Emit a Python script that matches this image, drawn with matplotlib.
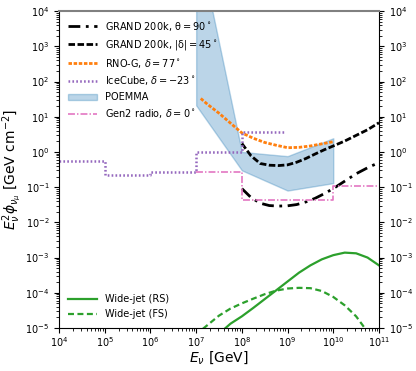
import matplotlib
matplotlib.use("Agg")
import matplotlib.pyplot as plt
from matplotlib.patches import Patch
from matplotlib.ticker import LogLocator, NullFormatter

plt.rcParams['lines.scale_dashes'] = False

# GRAND 200k, theta = 90 deg (lower black curve)
grand90_E = [1e8, 1.58e8, 2.51e8, 3.98e8, 6.31e8, 1e9, 1.58e9, 2.51e9, 3.98e9,
             6.31e9, 1e10, 1.78e10, 3.16e10, 5.62e10, 1e11]
grand90_F = [0.091, 0.051, 0.035, 0.030, 0.029, 0.0295, 0.032, 0.038, 0.048,
             0.065, 0.091, 0.148, 0.24, 0.355, 0.50]

# GRAND 200k, |delta| = 45 deg (upper black curve)
grand45_E = [1e8, 1.58e8, 2.51e8, 3.98e8, 6.31e8, 1e9, 1.58e9, 2.51e9, 3.98e9,
             6.31e9, 1e10, 1.78e10, 3.16e10, 5.62e10, 1e11]
grand45_F = [1.74, 0.78, 0.47, 0.42, 0.41, 0.43, 0.51, 0.65, 0.87,
             1.15, 1.48, 2.04, 2.95, 4.27, 6.76]

# RNO-G, delta = 77 deg
rnog_E = [1.26e7, 1.78e7, 3.16e7, 5.62e7, 1e8, 1.78e8, 3.16e8, 5.62e8, 1e9,
          1.78e9, 3.16e9, 5.62e9, 1e10]
rnog_F = [33, 22.4, 12.6, 6.6, 3.47, 2.45, 1.86, 1.55, 1.32,
          1.35, 1.48, 1.70, 1.95]

# IceCube, delta = -23 deg (stepwise)
icecube_edges = [1e4, 1e5, 1e6, 1e7, 1e8, 8.9e8]
icecube_F = [0.55, 0.22, 0.27, 1.0, 3.7]

# POEMMA band
poemma_E = [1e7, 1e8, 1e9, 1e10]
poemma_low = [21, 0.30, 0.08, 0.13]
poemma_high = [1.6e6, 1.0, 0.76, 2.45]

# Gen2 radio, delta = 0 deg (stepwise)
gen2_edges = [1e7, 1e8, 1e10, 1e11]
gen2_F = [0.27, 0.043, 0.107]

# Wide-jet (RS)
rs_E = [3.98e7, 5.62e7, 1e8, 1.78e8, 3.16e8, 5.62e8, 1e9, 1.78e9, 3.16e9,
        5.62e9, 1e10, 1.78e10, 3.16e10, 5.62e10, 1e11]
rs_F = [8.9e-6, 1.32e-5, 2.14e-5, 3.72e-5, 6.6e-5, 1.17e-4, 2.09e-4, 3.72e-4,
        6.0e-4, 8.9e-4, 1.17e-3, 1.38e-3, 1.32e-3, 1.0e-3, 6.0e-4]

# Wide-jet (FS)
fs_E = [1.41e7, 3.16e7, 5.62e7, 1e8, 1.78e8, 3.16e8, 5.62e8, 1e9, 1.78e9,
        3.16e9, 5.62e9, 1e10, 1.78e10, 3.16e10, 5.01e10]
fs_F = [9.5e-6, 2.24e-5, 3.55e-5, 5.0e-5, 6.8e-5, 9.1e-5, 1.15e-4, 1.32e-4,
        1.38e-4, 1.35e-4, 1.12e-4, 7.6e-5, 4.4e-5, 2.14e-5, 9.5e-6]

fig = plt.figure(figsize=(4.16, 3.71), dpi=100)
ax = fig.add_axes([0.142, 0.116, 0.769, 0.854])

ls90 = (0, (8.5, 4, 2, 4))
ls45 = (0, (4.7, 1.8))
ls_rno = (0, (2.5, 1.2))
ls_ice = (0, (1.2, 1.6))
ls_gen2 = (0, (5, 1.5, 1, 1.5))
ls_fs = (0, (4.3, 2.5))

ax.fill_between(poemma_E, poemma_low, poemma_high, color='#1f77b4', alpha=0.3,
                linewidth=1)
l90, = ax.plot(grand90_E, grand90_F, color='black', lw=2, linestyle=ls90)
l45, = ax.plot(grand45_E, grand45_F, color='black', lw=2, linestyle=ls45)
lrno, = ax.plot(rnog_E, rnog_F, color='#ff7f0e', lw=2, linestyle=ls_rno)
lice, = ax.plot(icecube_edges, icecube_F + [icecube_F[-1]], drawstyle='steps-post',
                color='#9467bd', lw=1.8, linestyle=ls_ice)
lgen2, = ax.plot(gen2_edges, gen2_F + [gen2_F[-1]], drawstyle='steps-post',
                 color='#e377c2', lw=1.2, linestyle=ls_gen2)
lrs, = ax.plot(rs_E, rs_F, color='#2ca02c', lw=1.6)
lfs, = ax.plot(fs_E, fs_F, color='#2ca02c', lw=1.6, linestyle=ls_fs)

ax.set_xscale('log')
ax.set_yscale('log')
ax.set_xlim(1e4, 1e11)
ax.set_ylim(1e-5, 1e4)
for axis in (ax.xaxis, ax.yaxis):
    axis.set_major_locator(LogLocator(base=10, numticks=20))
    axis.set_minor_locator(LogLocator(base=10, subs=[2, 3, 4, 5, 6, 7, 8, 9], numticks=20))
    axis.set_minor_formatter(NullFormatter())

ax.set_xlabel(r'$E_\nu$ [GeV]', fontsize=10, labelpad=0)
ax.set_ylabel(r'$E_\nu^2\phi_{\nu_\mu}$ [GeV cm$^{-2}$]', fontsize=10, labelpad=1)
ax.tick_params(axis='both', which='both', labelsize=7, right=True, labelright=True)
ax.tick_params(axis='x', which='major', pad=2)
ax.spines['top'].set_color('#808080')
ax.spines['top'].set_linewidth(1.5)

poemma_patch = Patch(facecolor='#1f77b4', alpha=0.3, edgecolor='#1f77b4')
leg1 = ax.legend([l90, l45, lrno, lice, poemma_patch, lgen2],
                 [r'GRAND 200k, $\mathrm{\theta} = 90^\circ$',
                  r'GRAND 200k, $|\mathrm{\delta}| = 45^\circ$',
                  r'RNO-G, $\delta = 77^\circ$',
                  r'IceCube, $\delta = -23^\circ$',
                  'POEMMA',
                  r'Gen2 radio, $\delta = 0^\circ$'],
                 loc='upper left', frameon=False, fontsize=7, handlelength=3)
ax.add_artist(leg1)
ax.legend([lrs, lfs], ['Wide-jet (RS)', 'Wide-jet (FS)'], loc='lower left',
          frameon=False, fontsize=7, handlelength=3)

fig.savefig('out.png', dpi=100)
